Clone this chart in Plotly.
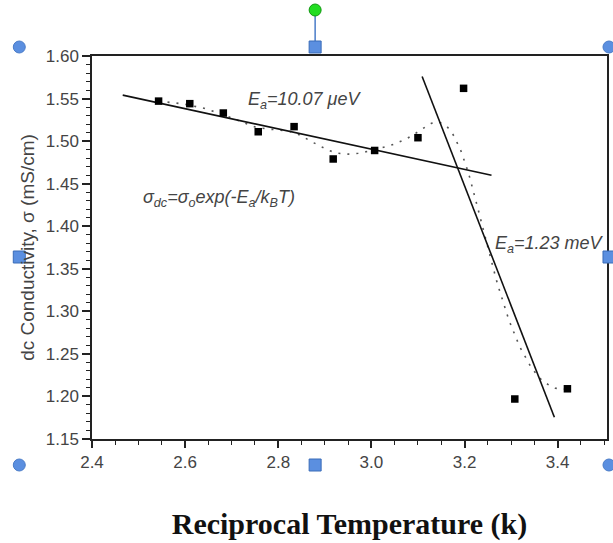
import numpy as np
import plotly.graph_objects as go

# ---- data ----
recip_T = [2.543, 2.610, 2.682, 2.757, 2.834, 2.918, 3.007, 3.100, 3.198, 3.308, 3.421]
sigma_dc = [1.547, 1.544, 1.533, 1.511, 1.517, 1.479, 1.489, 1.504, 1.562, 1.197, 1.209]

fit1_x = [2.466, 3.258]
fit1_y = [1.554, 1.460]
fit2_x = [3.109, 3.393]
fit2_y = [1.576, 1.1755]

x_ticks = [2.4, 2.6, 2.8, 3.0, 3.2, 3.4]
y_ticks = [1.15, 1.20, 1.25, 1.30, 1.35, 1.40, 1.45, 1.50, 1.55, 1.60]


def bspline(px, py, k=3, n=300):
    """Clamped uniform cubic B-spline using the data as control points."""
    P = np.column_stack([px, py])
    m = len(P)
    inner = np.linspace(0, 1, m - k + 1)
    t = np.concatenate([np.zeros(k), inner, np.ones(k)])

    def basis(i, kk, u):
        if kk == 0:
            if t[i] <= u < t[i + 1] or (u == 1.0 and t[i] < t[i + 1] == 1.0):
                return 1.0
            return 0.0
        a = 0.0
        if t[i + kk] != t[i]:
            a = (u - t[i]) / (t[i + kk] - t[i]) * basis(i, kk - 1, u)
        b = 0.0
        if t[i + kk + 1] != t[i + 1]:
            b = (t[i + kk + 1] - u) / (t[i + kk + 1] - t[i + 1]) * basis(i + 1, kk - 1, u)
        return a + b

    us = np.linspace(0, 1, n)
    out = []
    for u in us:
        w = np.array([basis(i, k, u) for i in range(m)])
        out.append(w @ P)
    out = np.array(out)
    return out[:, 0], out[:, 1]


sx, sy = bspline(recip_T, sigma_dc)

fig = go.Figure()
fig.add_trace(go.Scatter(x=sx, y=sy, mode="lines",
                         line=dict(color="#555555", width=1.6, dash="2px,7px"),
                         hoverinfo="skip", showlegend=False))
fig.add_trace(go.Scatter(x=fit1_x, y=fit1_y, mode="lines",
                         line=dict(color="#111111", width=1.6), showlegend=False))
fig.add_trace(go.Scatter(x=fit2_x, y=fit2_y, mode="lines",
                         line=dict(color="#111111", width=1.6), showlegend=False))
fig.add_trace(go.Scatter(x=recip_T, y=sigma_dc, mode="markers",
                         marker=dict(symbol="square", size=7.5, color="black"),
                         showlegend=False))

ann_font = dict(family="Liberation Sans, Arial", size=18, color="#444444")
fig.add_annotation(x=2.856, y=1.548, text="<i>E<sub>a</sub>=10.07 μeV</i>",
                   showarrow=False, font=ann_font)
fig.add_annotation(x=2.672, y=1.432, text="<i>σ<sub>dc</sub>=σ<sub>o</sub>exp(-E<sub>a</sub>/k<sub>B</sub>T)</i>",
                   showarrow=False, font=ann_font)
fig.add_annotation(x=3.382, y=1.379, text="<i>E<sub>a</sub>=1.23 meV</i>",
                   showarrow=False, font=ann_font)

# selection handles (decoration from the screenshot)
handle_col = "#5b8fe0"
def px2paper(px, py):
    return (px - 92) / 517.0, (439 - py) / 383.0

shapes = []
for (hx, hy) in [(19, 47), (611, 47), (19, 465), (611, 465)]:
    x0, y0 = px2paper(hx, hy)
    shapes.append(dict(type="circle", xref="paper", yref="paper", xsizemode="pixel", ysizemode="pixel",
                       xanchor=x0, yanchor=y0, x0=-6, x1=6, y0=-6, y1=6,
                       fillcolor=handle_col, line=dict(color="#4a7cc8", width=1)))
x0, y0 = px2paper(316, 47)
x1, y1 = px2paper(316, 10)
shapes.append(dict(type="line", xref="paper", yref="paper", x0=x0, x1=x1, y0=y0, y1=y1,
                   line=dict(color="#4a7cc8", width=1.5)))
shapes.append(dict(type="circle", xref="paper", yref="paper", xsizemode="pixel", ysizemode="pixel",
                   xanchor=x1, yanchor=y1, x0=-6, x1=6, y0=-6, y1=6,
                   fillcolor="#22dd22", line=dict(color="#119911", width=1)))
for (hx, hy) in [(316, 47), (316, 465), (19, 257), (611, 257)]:
    xa, ya = px2paper(hx, hy)
    shapes.append(dict(type="rect", xref="paper", yref="paper", xsizemode="pixel", ysizemode="pixel",
                       xanchor=xa, yanchor=ya, x0=-6, x1=6, y0=-6, y1=6,
                       fillcolor=handle_col, line=dict(color="#3a6cb8", width=1)))

tick_font = dict(family="Liberation Sans, Arial", size=17, color="#444444")
fig.update_layout(
    width=613, height=543,
    margin=dict(l=92, r=4, t=56, b=104),
    paper_bgcolor="white", plot_bgcolor="white",
    shapes=shapes,
    xaxis=dict(range=[2.4, 3.506], tickvals=x_ticks, ticktext=[f"{v:.1f}" for v in x_ticks],
               ticks="outside", ticklen=7, tickwidth=1.5, tickcolor="#222222",
               showline=True, linecolor="#222222", linewidth=1.5, mirror=True,
               showgrid=False, zeroline=False, tickfont=tick_font,
               minor=dict(dtick=0.05, tick0=2.4, ticks="outside", ticklen=4, tickcolor="#222222", tickwidth=1.2, showgrid=False),
               title=dict(text="<b>Reciprocal Temperature (k)</b>", standoff=42,
                          font=dict(family="Liberation Serif, Times New Roman", size=30, color="#111111"))),
    yaxis=dict(range=[1.15, 1.60], tickvals=y_ticks, ticktext=[f"{v:.2f}" for v in y_ticks],
               ticks="outside", ticklen=8, tickwidth=1.5, tickcolor="#222222",
               showline=True, linecolor="#222222", linewidth=1.5, mirror=True,
               showgrid=False, zeroline=False, tickfont=tick_font,
               minor=dict(dtick=0.01, tick0=1.15, ticks="outside", ticklen=4, tickcolor="#222222", tickwidth=1.2, showgrid=False),
               title=dict(text="dc Conductivity, σ (mS/cm)", standoff=6,
                          font=dict(family="Liberation Sans, Arial", size=19, color="#444444"))),
)

fig.write_html("out.html")
